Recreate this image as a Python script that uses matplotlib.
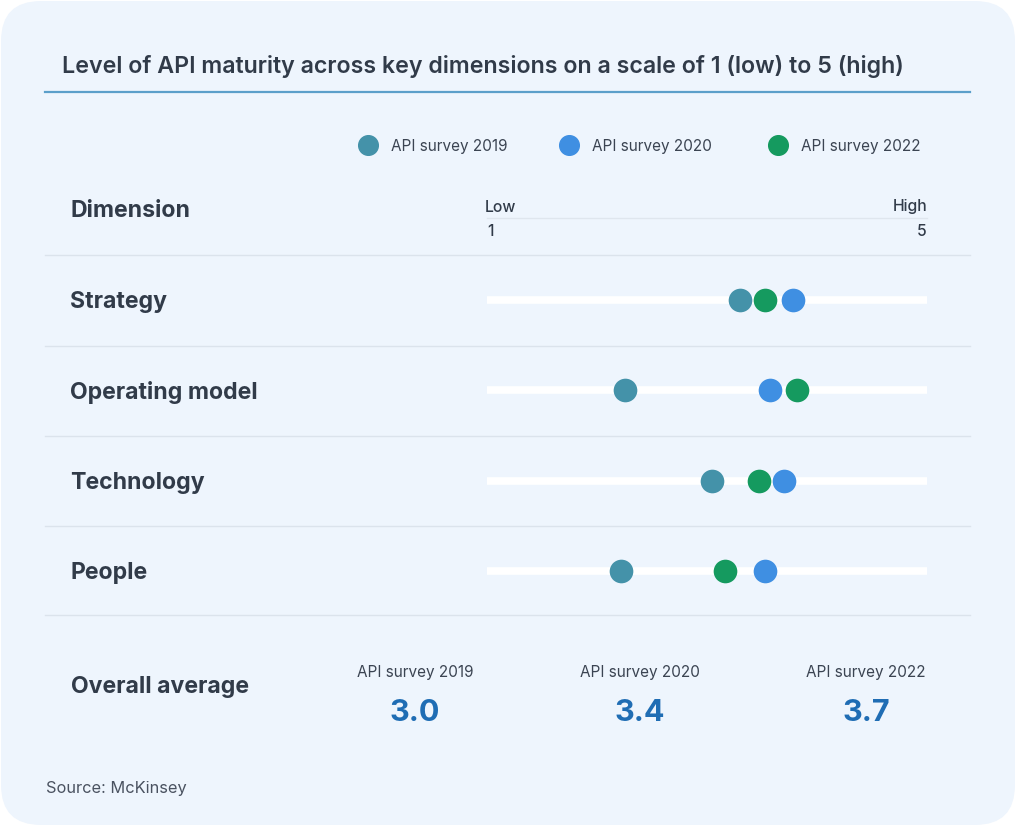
import matplotlib.pyplot as plt
from matplotlib.patches import FancyBboxPatch

plt.rcParams['font.family'] = ['Inter', 'DejaVu Sans']

# --- data ---
dimensions = ['Strategy', 'Operating model', 'Technology', 'People']
surveys = ['API survey 2019', 'API survey 2020', 'API survey 2022']
scores_2019 = [3.30, 2.25, 3.05, 2.22]
scores_2020 = [3.78, 3.57, 3.70, 3.53]
scores_2022 = [3.53, 3.82, 3.47, 3.16]
overall = [3.0, 3.4, 3.7]

colors = ['#4492a9', '#3f8fe2', '#159a5f']
dark = '#313b49'
card = '#eef5fd'
rule = '#dbe3ec'

W, H = 1016, 826
fig = plt.figure(figsize=(W / 100, H / 100), dpi=100)
fig.patch.set_facecolor('white')

# background axes in pixel coordinates for layout
bg = fig.add_axes([0, 0, 1, 1])
bg.set_xlim(0, W)
bg.set_ylim(H, 0)
bg.axis('off')
bg.add_patch(FancyBboxPatch((1, 1), W - 2, H - 2,
                            boxstyle='round,pad=0,rounding_size=40',
                            fc=card, ec='none'))

bg.text(62, 66, 'Level of API maturity across key dimensions on a scale of 1 (low) to 5 (high)',
        fontsize=16.7, fontweight='semibold', color=dark, va='center')
bg.plot([45, 970], [92, 92], color='#5b9fca', lw=1.6)

# legend
leg_x = [368, 569, 778]
for x, lab, c in zip(leg_x, surveys, colors):
    bg.scatter([x], [145], s=200, color=c, zorder=3)
    bg.text(x + 23, 147, lab, fontsize=11, color='#3b4452', va='center')

# header row
bg.text(71, 211, 'Dimension', fontsize=16.6, fontweight='bold', color=dark, va='center')
bg.text(485, 207, 'Low', fontsize=11.3, fontweight='medium', color=dark, va='center')
bg.text(927, 207, 'High', fontsize=11.3, fontweight='medium', color=dark, va='center', ha='right')
bg.text(487, 231, '1', fontsize=11.3, fontweight='medium', color=dark, va='center')
bg.text(927, 231, '5', fontsize=11.3, fontweight='medium', color=dark, va='center', ha='right')
bg.plot([487, 927], [218, 218], color='#dfe6ee', lw=1)

# row separators
for y in [255, 346, 436, 526, 615]:
    bg.plot([45, 970], [y, y], color=rule, lw=1)

# dimension labels
row_y = [302, 392, 483, 573]
for y, name in zip(row_y, dimensions):
    bg.text(70, y, name, fontsize=16.6, fontweight='bold', color=dark, va='center')

# dot plot axes: x from 1 to 5
ax = fig.add_axes([487 / W, 1 - 616 / H, 440 / W, 361 / H])
ax.set_xlim(1, 5)
ax.set_ylim(len(dimensions) - 0.5, -0.5)
ax.axis('off')
rows = list(range(len(dimensions)))
for r in rows:
    ax.plot([1, 5], [r, r], color='white', lw=5.5, solid_capstyle='round', zorder=1)
for vals, c in zip([scores_2019, scores_2022, scores_2020], [colors[0], colors[2], colors[1]]):
    ax.scatter(vals, rows, s=290, color=c, zorder=3, clip_on=False, linewidths=0)

# overall averages
bg.text(71, 687, 'Overall average', fontsize=16.6, fontweight='bold', color=dark, va='center')
avg_x = [415, 640, 866]
for x, lab, v in zip(avg_x, surveys, overall):
    bg.text(x, 673, lab, fontsize=11, color='#3b4452', va='center', ha='center')
    bg.text(x, 713, f'{v:.1f}', fontsize=22, fontweight='bold', color='#1f6db4',
            va='center', ha='center')

bg.text(46, 788, 'Source: McKinsey', fontsize=11.8, color='#4a5260', va='center')

fig.savefig('out.png', dpi=100, facecolor='white')
